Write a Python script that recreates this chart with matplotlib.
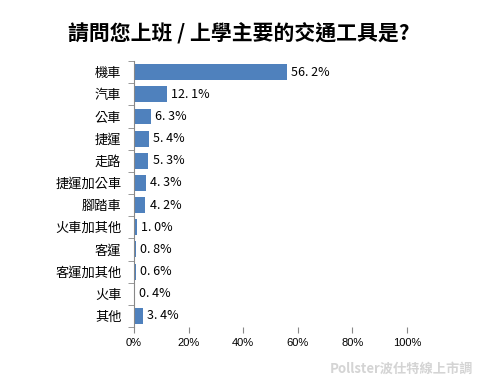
import matplotlib.pyplot as plt
from matplotlib.ticker import MultipleLocator, PercentFormatter, FixedLocator
import numpy as np

plt.rcParams['font.family'] = ['Noto Sans CJK TC', 'DejaVu Sans']

categories = ['機車', '汽車', '公車', '捷運', '走路', '捷運加公車', '腳踏車',
              '火車加其他', '客運', '客運加其他', '火車', '其他']
values = [56.2, 12.1, 6.3, 5.4, 5.3, 4.3, 4.2, 1.0, 0.8, 0.6, 0.4, 3.4]

fig = plt.figure(figsize=(4.9, 3.91), dpi=100)
ax = fig.add_axes([0.2735, 0.1637, 0.557, 0.680])

y = np.arange(len(categories))
ax.barh(y, values, height=0.72, color='#4F81BD')
for yi, v in zip(y, values):
    label = f"{v:.1f}".replace('.', '. ') + '%'
    ax.text(v + 1.5, yi, label, va='center', ha='left', fontsize=9, color='black')

ax.set_ylim(len(categories) - 0.5, -0.5)
ax.set_xlim(0, 100)
ax.set_yticks(y)
ax.set_yticklabels(categories, fontsize=9.5)
ax.yaxis.set_minor_locator(FixedLocator(np.arange(-0.5, len(categories), 1)))
ax.tick_params(axis='y', which='major', length=0, pad=9)
ax.tick_params(axis='y', which='minor', length=4, color='#888888')
ax.xaxis.set_major_locator(MultipleLocator(20))
ax.xaxis.set_major_formatter(PercentFormatter(decimals=0))
ax.tick_params(axis='x', length=4, color='#888888', labelsize=8, pad=4)
for lbl in ax.get_xticklabels():
    lbl.set_family(['Liberation Sans', 'DejaVu Sans'])

for s in ['top', 'right', 'bottom']:
    ax.spines[s].set_visible(False)
ax.spines['left'].set_color('#888888')

fig.text(0.487, 0.913, '請問您上班 / 上學主要的交通工具是?', ha='center', va='center',
         fontsize=15, fontweight='bold')
fig.text(0.965, 0.058, 'Pollster波仕特線上市調', ha='right', va='center',
         fontsize=9.5, color='#d4d4d4', fontweight='bold')

fig.savefig('out.png', dpi=100)
